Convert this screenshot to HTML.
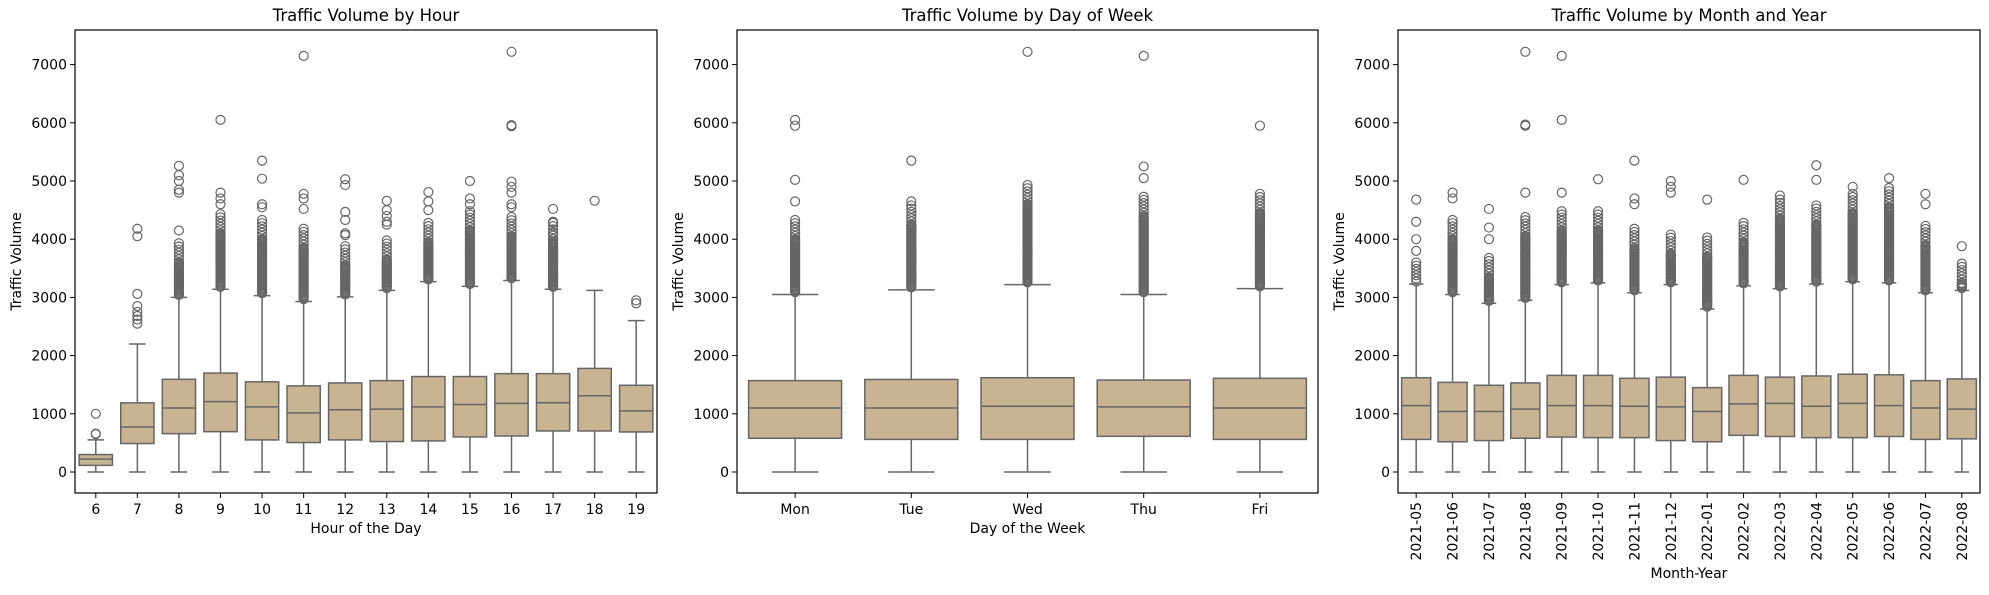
<!DOCTYPE html>
<html><head><meta charset="utf-8"><style>
body{margin:0;background:#fff;}
svg text{font-family:"DejaVu Sans","Liberation Sans",sans-serif;fill:#000;}
</style></head><body>
<svg id="fig" width="1989" height="590" xmlns="http://www.w3.org/2000/svg"></svg>
<script>
// ---- Panel 1: by hour ----
const hourCats = ["6","7","8","9","10","11","12","13","14","15","16","17","18","19"];
const hourQ1 = [114,489,659,693,551,506,551,523,534,602,619,705,705,688];
const hourMed = [222,773,1100,1210,1120,1015,1070,1080,1120,1160,1180,1190,1310,1050];
const hourQ3 = [300,1188,1593,1700,1550,1480,1530,1570,1640,1640,1690,1690,1780,1490];
const hourLo = [0,0,0,0,0,0,0,0,0,0,0,0,0,0];
const hourHi = [551,2200,3000,3140,3030,2930,3010,3120,3270,3190,3290,3140,3120,2600];
const hourDenseTop = [0,0,3950,4450,4350,4200,3900,4000,4300,4500,4400,4300,0,0];
const hourOutliers = [[650,660,1000],[2550,2620,2680,2750,2850,3060,4050,4180],[4150,4800,4850,5000,5100,5260],[4600,4700,4800,6050],[4550,4600,5040,5350],[4520,4700,4780,7150],[4070,4100,4330,4470,4930,5030],[4250,4300,4400,4500,4660],[4500,4650,4810],[4600,4700,5000],[4550,4600,4800,4900,4990,5940,5960,7220],[3300,3400,3600,3700,3850,4000,4100,4300,4520],[4660],[2900,2950]];
// ---- Panel 2: by day ----
const dayCats = ["Mon","Tue","Wed","Thu","Fri"];
const dayQ1 = [580,560,560,613,560];
const dayMed = [1100,1100,1130,1120,1100];
const dayQ3 = [1570,1590,1620,1580,1610];
const dayLo = [0,0,0,0,0];
const dayHi = [3050,3130,3220,3050,3150];
const dayDenseTop = [4350,4600,4950,4750,4800];
const dayOutliers = [[4650,5020,5950,6050],[4650,5350],[7220],[5050,5250,7150],[5950]];
// ---- Panel 3: by month ----
const monCats = ["2021-05","2021-06","2021-07","2021-08","2021-09","2021-10","2021-11","2021-12","2022-01","2022-02","2022-03","2022-04","2022-05","2022-06","2022-07","2022-08"];
const monQ1 = [560,520,540,580,600,590,590,540,520,630,610,590,590,610,560,570];
const monMed = [1140,1040,1040,1080,1140,1140,1130,1120,1040,1170,1180,1130,1180,1140,1100,1080];
const monQ3 = [1620,1540,1490,1530,1660,1660,1610,1630,1450,1660,1630,1650,1680,1670,1570,1600];
const monLo = [0,0,0,0,0,0,0,0,0,0,0,0,0,0,0,0];
const monHi = [3230,3050,2900,2950,3220,3250,3080,3220,2800,3200,3150,3230,3270,3250,3080,3120];
const monDenseTop = [3600,4350,3700,4400,4500,4500,4200,4100,4050,4300,4700,4600,4800,4900,4250,3600];
const monOutliers = [[3800,4000,4300,4680],[4700,4800],[4000,4200,4520],[4800,5950,5970,7220],[4800,6050,7150],[5030],[4600,4700,5350],[4800,4900,5000],[4680],[5020],[4750],[5020,5270],[4900],[5050],[4600,4780],[3880]];
const yTicks = [0,1000,2000,3000,4000,5000,6000,7000];

const NS="http://www.w3.org/2000/svg";
const svg=document.getElementById('fig');
function mk(tag,attrs,parent){const e=document.createElementNS(NS,tag);for(const k in attrs)e.setAttribute(k,attrs[k]);(parent||svg).appendChild(e);return e;}
const axTop=30,axBottom=493;
function yS(v){return 472-v*0.0582;}

function panel(name,left,right,title,xlabel,cats,q1,med,q3,lo,hi,dense,outs,rot){
  const g=mk('g',{});
  
  
  const step=(right-left)/cats.length;
  const bw=step*0.8;
  cats.forEach((c,i)=>{
    const cx=left+step*(i+0.5);
    const bg=mk('g',{},g);
    
    
    mk('line',{x1:cx,x2:cx,y1:yS(q3[i]),y2:yS(hi[i]),stroke:'#666','stroke-width':1.5},bg);
    mk('line',{x1:cx,x2:cx,y1:yS(q1[i]),y2:yS(lo[i]),stroke:'#666','stroke-width':1.5},bg);
    mk('line',{x1:cx-bw/4,x2:cx+bw/4,y1:yS(hi[i]),y2:yS(hi[i]),stroke:'#666','stroke-width':1.5},bg);
    mk('line',{x1:cx-bw/4,x2:cx+bw/4,y1:yS(lo[i]),y2:yS(lo[i]),stroke:'#666','stroke-width':1.5},bg);
    mk('rect',{x:cx-bw/2,y:yS(q3[i]),width:bw,height:yS(q1[i])-yS(q3[i]),fill:'#c8b393',stroke:'#666','stroke-width':1.5},bg);
    mk('line',{x1:cx-bw/2,x2:cx+bw/2,y1:yS(med[i]),y2:yS(med[i]),stroke:'#666','stroke-width':1.5},bg);
    if(dense[i]>hi[i]){
      const solidTop=dense[i]-350;
      for(let v=hi[i]+40;v<=solidTop;v+=20){mk('circle',{cx:cx,cy:yS(v),r:4.5,fill:'none',stroke:'#666','stroke-width':1.2},bg);}
      for(let v=Math.max(solidTop,hi[i]+40);v<=dense[i];v+=55){mk('circle',{cx:cx,cy:yS(v),r:4.5,fill:'none',stroke:'#666','stroke-width':1.2},bg);}
    }
    outs[i].forEach(v=>{mk('circle',{cx:cx,cy:yS(v),r:4.5,fill:'none',stroke:'#666','stroke-width':1.2},bg);});
    mk('line',{x1:cx,x2:cx,y1:axBottom,y2:axBottom+5,stroke:'#000','stroke-width':1},g);
    let t;
    if(rot){t=mk('text',{x:0,y:0,'font-size':14,'text-anchor':'end',transform:`translate(${cx+5},${axBottom+9}) rotate(-90)`},g);}
    else{t=mk('text',{x:cx,y:axBottom+21,'font-size':14,'text-anchor':'middle'},g);}
    t.textContent=c;
    
    
  });
  yTicks.forEach(v=>{
    mk('line',{x1:left-5,x2:left,y1:yS(v),y2:yS(v),stroke:'#000','stroke-width':1},g);
    const t=mk('text',{x:left-8,y:yS(v)+5,'font-size':14,'text-anchor':'end'},g);
    t.textContent=v;
    
    
  });
  const fr=mk('rect',{x:left,y:axTop,width:right-left,height:axBottom-axTop,fill:'none',stroke:'#000','stroke-width':1.2},g);
  
  
  const tt=mk('text',{x:(left+right)/2,y:21,'font-size':16.5,'text-anchor':'middle'},g);
  tt.textContent=title;
  
  
  const xl=mk('text',{x:(left+right)/2,y:rot?578:533,'font-size':14,'text-anchor':'middle'},g);
  xl.textContent=xlabel;
  
  
  const yl=mk('text',{x:0,y:0,'font-size':14,'text-anchor':'middle',transform:`translate(${left-54},${(axTop+axBottom)/2}) rotate(-90)`},g);
  yl.textContent='Traffic Volume';
  
  
}
panel('hour-panel',75,657,'Traffic Volume by Hour','Hour of the Day',hourCats,hourQ1,hourMed,hourQ3,hourLo,hourHi,hourDenseTop,hourOutliers,false);
panel('day-panel',737,1318,'Traffic Volume by Day of Week','Day of the Week',dayCats,dayQ1,dayMed,dayQ3,dayLo,dayHi,dayDenseTop,dayOutliers,false);
panel('month-panel',1398,1980,'Traffic Volume by Month and Year','Month-Year',monCats,monQ1,monMed,monQ3,monLo,monHi,monDenseTop,monOutliers,true);
</script>
</body></html>
